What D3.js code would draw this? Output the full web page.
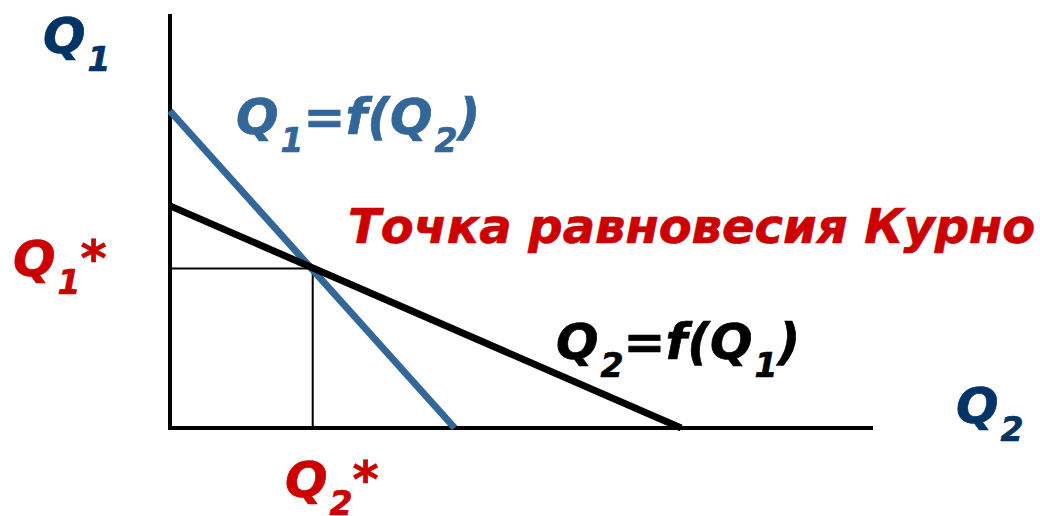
<!DOCTYPE html>
<meta charset="utf-8">
<style>
    body { margin: 0; background: #fff; }
    .lbl { font-family: "DejaVu Sans", Verdana, sans-serif; font-weight: bold; font-style: italic; stroke-width: 0.7px; }
</style>
<svg width="1040" height="516"></svg>
<script src="https://cdn.jsdelivr.net/npm/d3@7"></script>
<script>

    // axis extents (arbitrary units)
    var q2Range = [0, 100],
        q1Range = [0, 58.9];

    // reaction curves: [Q2, Q1]
    var reaction1 = [[0, 45.1], [40.5, 0]];   // Q1 = f(Q2)
    var reaction2 = [[0, 31.6], [72.7, 0]];   // Q2 = f(Q1)
    var equilibrium = [20.3, 22.7];

    var svg = d3.select("svg");

    var x = d3.scaleLinear().domain(q2Range).range([170, 873]),
        y = d3.scaleLinear().domain(q1Range).range([428, 14]);

    var line = d3.line()
        .x(function(d) { return x(d[0]); })
        .y(function(d) { return y(d[1]); });

    // guides from equilibrium to axes (thin)
    svg.append("path")
        .attr("d", line([[0, equilibrium[1]], equilibrium, [equilibrium[0], 0]]))
        .attr("fill", "none")
        .attr("stroke", "#000")
        .attr("stroke-width", 2);

    // axes
    svg.append("path")
        .attr("d", line([[q2Range[0], q1Range[1]], [0, 0], [q2Range[1], 0]]))
        .attr("fill", "none")
        .attr("stroke", "#000")
        .attr("stroke-width", 4);

    svg.append("path")
        .attr("d", line(reaction1))
        .attr("fill", "none")
        .attr("stroke", "#336699")
        .attr("stroke-width", 7);

    svg.append("path")
        .attr("d", line(reaction2))
        .attr("fill", "none")
        .attr("stroke", "#000")
        .attr("stroke-width", 7);

    // labels: parts = [text, isSub]
    function label(xp, yp, color, parts, size) {
        var t = svg.append("text")
            .attr("class", "lbl")
            .attr("x", xp)
            .attr("y", yp)
            .attr("fill", color)
            .attr("stroke", color)
            .style("font-size", size + "px");
        var sub = false;
        parts.forEach(function(p) {
            var s = t.append("tspan").text(p[0]);
            if (p[1] && !sub) { s.attr("dx", 2).attr("dy", size * 0.36).style("font-size", (size * 0.66) + "px"); sub = true; }
            else if (p[1]) { s.style("font-size", (size * 0.66) + "px"); }
            else if (sub) { s.attr("dy", -size * 0.36); sub = false; }
        });
        return t;
    }

    label(43, 53, "#003366", [["Q"], ["1", 1]], 50);
    label(956, 423, "#003366", [["Q"], ["2", 1]], 50);
    label(236, 134, "#336699", [["Q"], ["1", 1], ["=f(Q"], ["2", 1], [")"]], 50);
    label(556, 359, "#000", [["Q"], ["2", 1], ["=f(Q"], ["1", 1], [")"]], 50);
    label(13, 276, "#cc0000", [["Q"], ["1", 1], ["*"]], 50);
    label(285, 497, "#cc0000", [["Q"], ["2", 1], ["*"]], 50);

    svg.append("text")
        .attr("class", "lbl")
        .attr("x", 348)
        .attr("y", 243)
        .attr("fill", "#cc0000")
        .attr("stroke", "#cc0000")
        .style("font-size", "48px")
        .text("Точка равновесия Курно");

</script>
